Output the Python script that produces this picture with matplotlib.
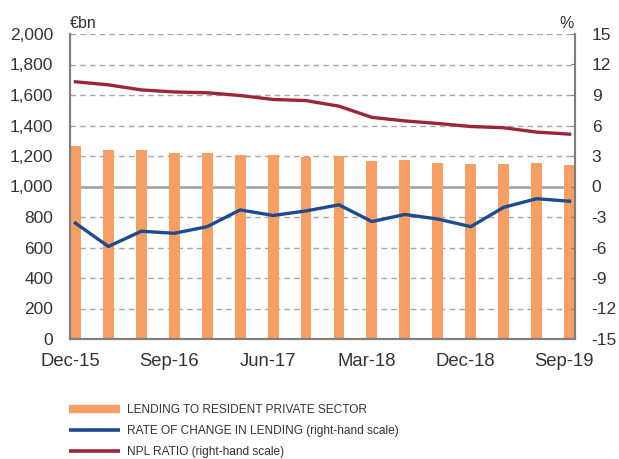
import matplotlib
matplotlib.use("Agg")
import matplotlib.pyplot as plt
from matplotlib.lines import Line2D
import numpy as np

quarters = ["Dec-15", "Mar-16", "Jun-16", "Sep-16", "Dec-16", "Mar-17", "Jun-17", "Sep-17",
            "Dec-17", "Mar-18", "Jun-18", "Sep-18", "Dec-18", "Mar-19", "Jun-19", "Sep-19"]
lending = [1268, 1240, 1242, 1222, 1220, 1209, 1207, 1194,
           1199, 1168, 1172, 1155, 1148, 1145, 1157, 1140]
rate_change = [-3.6, -5.9, -4.4, -4.6, -3.95, -2.3, -2.85, -2.4,
               -1.8, -3.45, -2.75, -3.2, -3.95, -2.05, -1.2, -1.45]
npl_ratio = [10.3, 10.0, 9.5, 9.3, 9.22, 8.95, 8.56, 8.45,
             7.9, 6.8, 6.45, 6.2, 5.9, 5.78, 5.35, 5.15]
tick_labels = ["Dec-15", "Sep-16", "Jun-17", "Mar-18", "Dec-18", "Sep-19"]

ORANGE = "#F79E64"
BLUE = "#1E4B8D"
RED = "#9C2638"
GRID = "#A6A6A6"
SPINE = "#7F7F7F"
TXT = "#333333"

plt.rcParams["font.family"] = ["Liberation Sans", "DejaVu Sans"]
plt.rcParams["axes.unicode_minus"] = False

fig = plt.figure(figsize=(6.19, 4.59), dpi=100)
ax = fig.add_axes([70/619, 1-339/459, 505/619, 305/459])
ax2 = ax.twinx()

x = np.arange(len(quarters))
bw = 0.33
ax.bar(x, lending, width=bw, color=ORANGE, zorder=2)
ax.set_xlim(-bw/2, len(quarters) - 1 + bw/2)
ax.set_ylim(0, 2000)
ax.set_yticks(np.arange(0, 2001, 200))
ax.set_yticklabels([f"{v:,}" for v in range(0, 2001, 200)])
for v in range(200, 2001, 200):
    if v == 1000:
        ax.axhline(v, color=GRID, lw=2.0, zorder=1)
    else:
        ax.axhline(v, color=GRID, lw=1.0, ls=(0, (4, 3)), zorder=1)

ax2.set_ylim(-15, 15)
ax2.set_yticks(np.arange(-15, 16, 3))
ax2.plot(x, rate_change, color=BLUE, lw=2.4, zorder=3)
ax2.plot(x, npl_ratio, color=RED, lw=2.4, zorder=3)

tick_idx = [quarters.index(t) for t in tick_labels]
ax.set_xticks([i - bw/2 for i in tick_idx])
ax.set_xticklabels(tick_labels)

for a in (ax, ax2):
    a.spines["top"].set_visible(False)
    for s in ("left", "right", "bottom"):
        a.spines[s].set_color(SPINE)
        a.spines[s].set_linewidth(1.5)
ax.tick_params(axis="x", direction="in", length=4, color=SPINE, labelsize=13.3, labelcolor=TXT, pad=10)
ax.tick_params(axis="y", length=0, labelsize=12.5, labelcolor=TXT, pad=12)
ax2.tick_params(axis="y", direction="in", length=3, color=SPINE, labelsize=12.5, labelcolor=TXT, pad=12)
ax2.patch.set_visible(False)

fig.text(83/619, 1-23/459, "€bn", ha="center", va="center", fontsize=11.5, color=TXT)
fig.text(567/619, 1-23/459, "%", ha="center", va="center", fontsize=11.5, color=TXT)

handles = [Line2D([0], [0], color=ORANGE, lw=6, solid_capstyle="butt"),
           Line2D([0], [0], color=BLUE, lw=2.6, solid_capstyle="butt"),
           Line2D([0], [0], color=RED, lw=2.6, solid_capstyle="butt")]
labels = ["LENDING TO RESIDENT PRIVATE SECTOR",
          "RATE OF CHANGE IN LENDING (right-hand scale)",
          "NPL RATIO (right-hand scale)"]
fig.legend(handles, labels, loc="upper left", bbox_to_anchor=(58/619, 1-393/459),
           frameon=False, handlelength=4.3, handletextpad=0.57,
           labelspacing=0.78, labelcolor=TXT,
           prop={"family": ["Liberation Sans", "DejaVu Sans"], "size": 8.6})

fig.savefig("out.png", dpi=100)
